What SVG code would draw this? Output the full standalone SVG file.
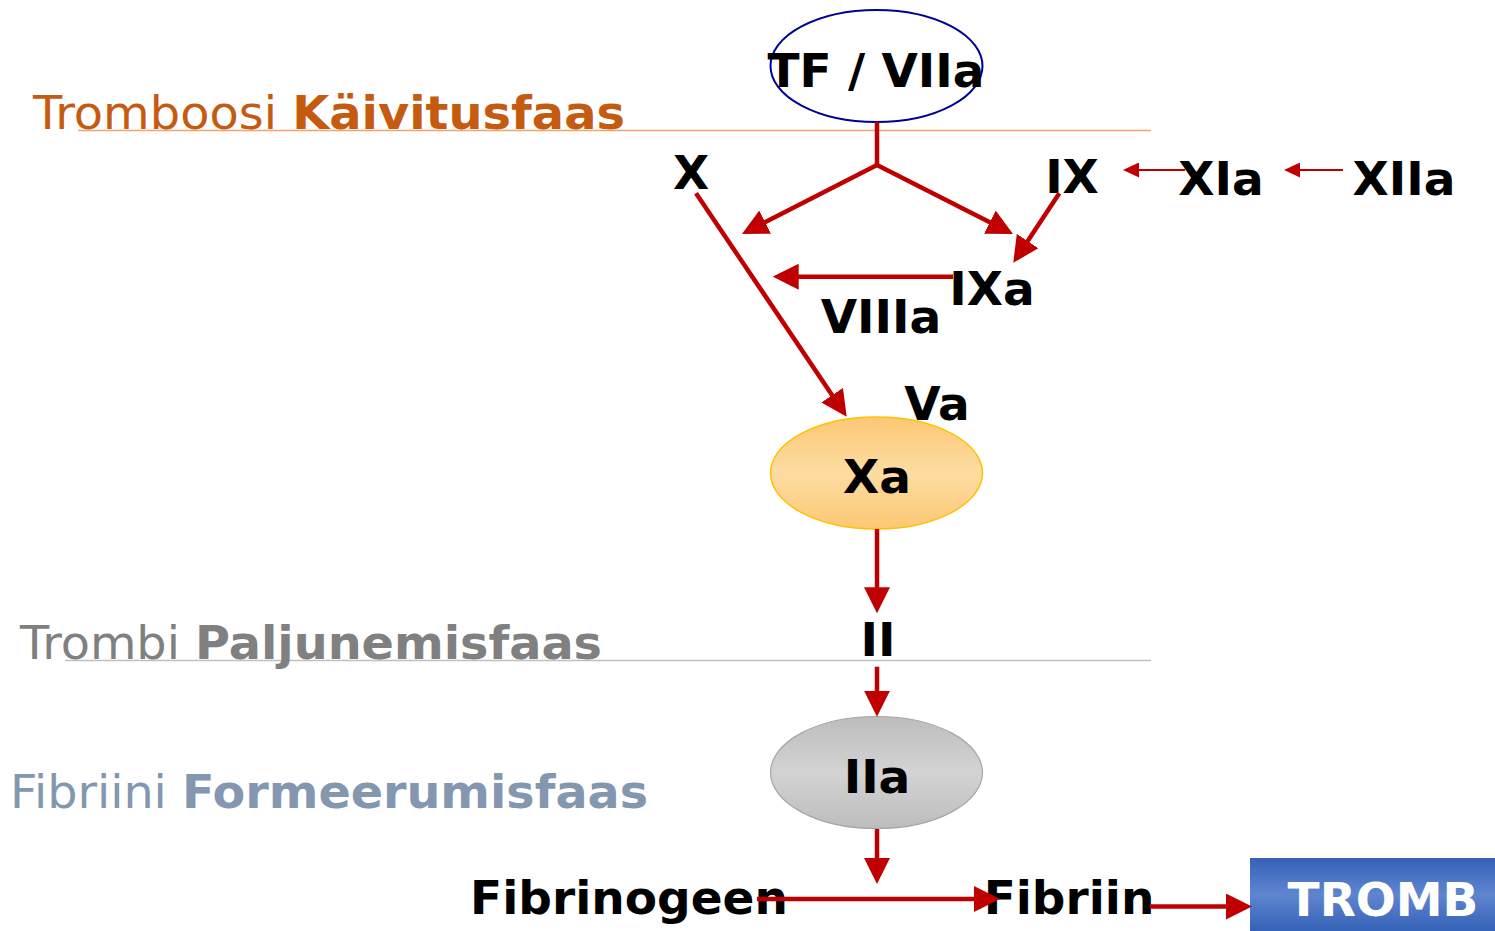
<svg xmlns="http://www.w3.org/2000/svg" width="1495" height="931" viewBox="0 0 1495 931">
  <style>
    .lbl { font-family: "DejaVu Sans", "Liberation Sans", sans-serif; font-weight: bold; font-size: 47px; fill: #000; text-anchor: middle; }
    .phase { font-family: "DejaVu Sans", "Liberation Sans", sans-serif; font-size: 47px; }
    .phase .b { font-weight: bold; }
    .con { stroke: #c00000; stroke-width: 4.5; fill: none; marker-end: url(#head); }
    .con-thin { stroke: #c00000; stroke-width: 2; fill: none; marker-end: url(#head-s); }
    .con-plain { stroke: #c00000; stroke-width: 4.5; fill: none; }
  </style>
  <defs>
    <marker id="head" markerUnits="userSpaceOnUse" markerWidth="26" markerHeight="26" refX="16" refY="13" orient="auto">
      <path d="M0,0 L26,13 L0,26 z" fill="#c00000"/>
    </marker>
    <marker id="head-s" markerUnits="userSpaceOnUse" markerWidth="16" markerHeight="15" refX="10" refY="7.5" orient="auto">
      <path d="M0,0 L16,7.5 L0,15 z" fill="#c00000"/>
    </marker>
    <linearGradient id="gXa" x1="0" y1="0" x2="0" y2="1">
      <stop offset="0" stop-color="#fcc874"/>
      <stop offset="0.5" stop-color="#fddca2"/>
      <stop offset="1" stop-color="#fcc874"/>
    </linearGradient>
    <linearGradient id="gIIa" x1="0" y1="0" x2="0" y2="1">
      <stop offset="0" stop-color="#bdbdbd"/>
      <stop offset="0.5" stop-color="#d3d3d3"/>
      <stop offset="1" stop-color="#bdbdbd"/>
    </linearGradient>
    <linearGradient id="gTromb" x1="0" y1="0" x2="0" y2="1">
      <stop offset="0" stop-color="#3462b7"/>
      <stop offset="0.5" stop-color="#5f85cf"/>
      <stop offset="1" stop-color="#3462b7"/>
    </linearGradient>
  </defs>

  <rect width="1495" height="931" fill="#ffffff"/>

  <!-- phase separators -->
  <line x1="78" y1="130.5" x2="1151" y2="130.5" stroke="#f4a46a" stroke-width="1.5"/>
  <line x1="65" y1="660.5" x2="1151" y2="660.5" stroke="#c0c0c0" stroke-width="1.5"/>

  <!-- phase titles -->
  <text class="phase" x="33" y="129" fill="#c55a11" textLength="592" lengthAdjust="spacingAndGlyphs">Tromboosi <tspan class="b">Käivitusfaas</tspan></text>
  <text class="phase" x="20" y="659" fill="#808080" textLength="582" lengthAdjust="spacingAndGlyphs">Trombi <tspan class="b">Paljunemisfaas</tspan></text>
  <text class="phase" x="10" y="808" fill="#8497b0" textLength="638" lengthAdjust="spacingAndGlyphs">Fibriini <tspan class="b">Formeerumisfaas</tspan></text>

  <!-- nodes -->
  <g id="tf-viia">
    <ellipse cx="876.5" cy="66" rx="106" ry="56" fill="none" stroke="#000099" stroke-width="2"/>
    <text class="lbl" x="876" y="87" textLength="217" lengthAdjust="spacingAndGlyphs">TF / VIIa</text>
  </g>
  <g id="x"><text class="lbl" x="691" y="189">X</text></g>
  <g id="ix"><text class="lbl" x="1072" y="193">IX</text></g>
  <g id="xia"><text class="lbl" x="1221" y="195">XIa</text></g>
  <g id="xiia"><text class="lbl" x="1404" y="195">XIIa</text></g>
  <g id="ixa"><text class="lbl" x="992" y="305">IXa</text></g>
  <g id="viiia"><text class="lbl" x="881" y="333">VIIIa</text></g>
  <g id="va"><text class="lbl" x="937" y="420">Va</text></g>
  <g id="xa">
    <ellipse cx="876.5" cy="473" rx="106" ry="56" fill="url(#gXa)" stroke="#ffc000" stroke-width="1.5"/>
    <text class="lbl" x="877" y="493">Xa</text>
  </g>
  <g id="ii"><text class="lbl" x="878" y="656">II</text></g>
  <g id="iia">
    <ellipse cx="876.5" cy="772.5" rx="106" ry="56" fill="url(#gIIa)" stroke="#a6a6a6" stroke-width="1.2"/>
    <text class="lbl" x="877" y="793">IIa</text>
  </g>
  <g id="fibrinogeen"><text class="lbl" x="629" y="914">Fibrinogeen</text></g>
  <g id="fibriin"><text class="lbl" x="1069" y="914">Fibriin</text></g>
  <g id="tromb">
    <rect x="1250" y="858" width="245" height="73" fill="url(#gTromb)"/>
    <text class="lbl" x="1383" y="916" style="fill:#ffffff">TROMB</text>
  </g>

  <!-- connectors -->
  <g id="connectors">
    <line class="con-plain" x1="877" y1="122" x2="877" y2="165"/>
    <line class="con" x1="877" y1="165" x2="750.9" y2="229.4"/>
    <line class="con" x1="877" y1="165" x2="1004.1" y2="229.4"/>
    <line class="con" x1="1059.3" y1="193.3" x2="1018.8" y2="254.4"/>
    <line class="con" x1="953" y1="276.7" x2="782.7" y2="276.7"/>
    <line class="con" x1="696" y1="193.3" x2="841.1" y2="408.4"/>
    <line class="con" x1="877" y1="529" x2="877" y2="603.3"/>
    <line class="con" x1="877" y1="666.7" x2="877" y2="706.7"/>
    <line class="con" x1="877" y1="829" x2="877" y2="874"/>
    <line class="con" x1="757" y1="899" x2="990" y2="899"/>
    <line class="con" x1="1150" y1="906.5" x2="1242" y2="906.5"/>
    <line class="con-thin" x1="1185" y1="170" x2="1129" y2="170"/>
    <line class="con-thin" x1="1343" y1="170" x2="1290" y2="170"/>
  </g>
</svg>
